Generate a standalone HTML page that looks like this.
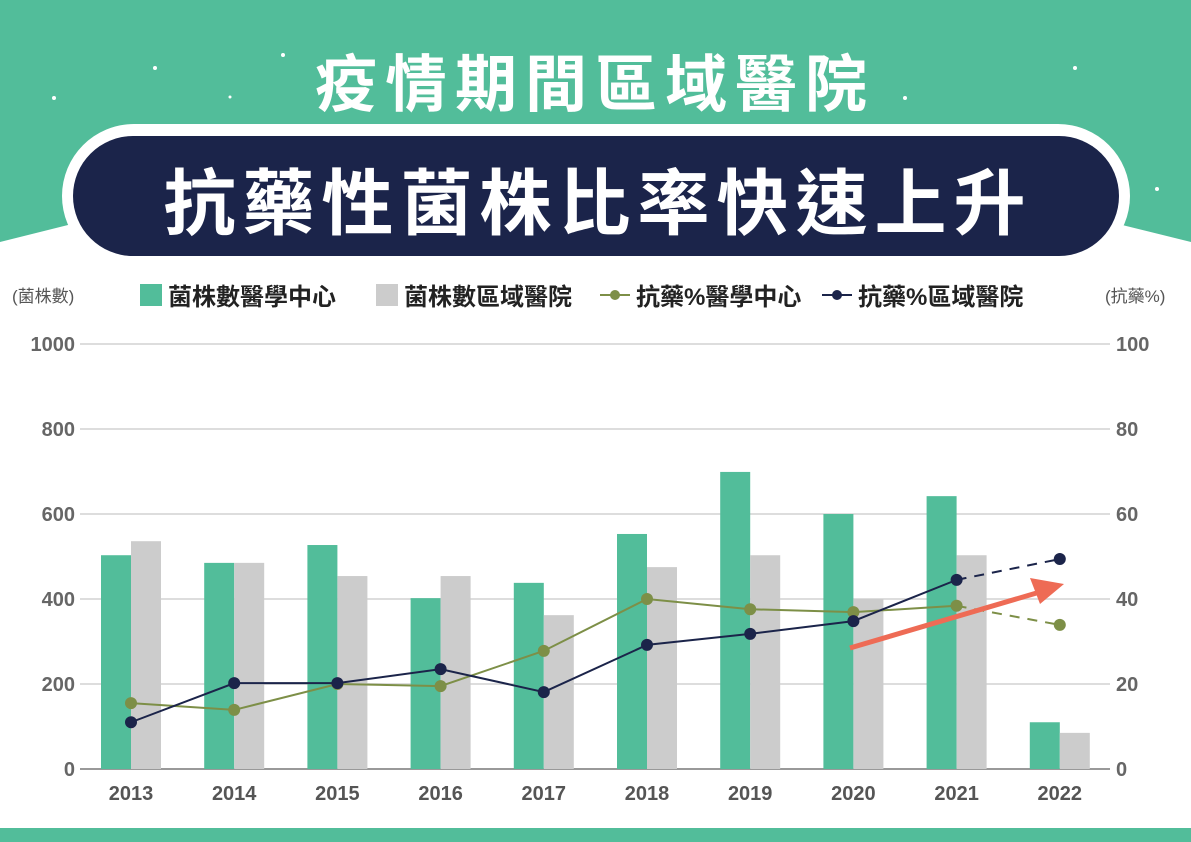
<!DOCTYPE html>
<html><head><meta charset="utf-8"><style>
body{margin:0;width:1191px;height:842px;overflow:hidden;background:#fff;font-family:"Liberation Sans","Noto Sans CJK TC",sans-serif}
</style></head><body>
<svg width="1191" height="842" style="position:absolute;left:0;top:0">
<rect x="0" y="0" width="1191" height="250" fill="#52bd9a"/>
<path d="M0,242 L80,222 L1110,222 L1191,242 L1191,842 L0,842 Z" fill="#fff"/>
<rect x="62" y="124" width="1068" height="144" rx="72" fill="#fff"/>
<rect x="73" y="136" width="1046" height="120" rx="60" fill="#1b244a"/>
<g fill="#fff"><circle cx="54" cy="98" r="2"/><circle cx="155" cy="68" r="2"/><circle cx="283" cy="55" r="2"/><circle cx="230" cy="97" r="1.5"/><circle cx="905" cy="98" r="2"/><circle cx="1075" cy="68" r="2"/><circle cx="1157" cy="189" r="2"/><circle cx="1112" cy="160" r="1.5"/></g>
<text x="595" y="106" text-anchor="middle" font-size="62" letter-spacing="8" font-weight="bold" fill="#fff">疫情期間區域醫院</text>
<text x="598" y="229" text-anchor="middle" font-size="72" letter-spacing="7" font-weight="bold" fill="#fff">抗藥性菌株比率快速上升</text>
<text x="12" y="302" font-size="17" fill="#555">(菌株數)</text>
<text x="1105" y="302" font-size="17" fill="#555">(抗藥%)</text>
<g font-size="24" font-weight="bold" fill="#222">
<rect x="140" y="284" width="22" height="22" fill="#52bd9a"/><text x="168" y="305">菌株數醫學中心</text>
<rect x="376" y="284" width="22" height="22" fill="#cccccc"/><text x="404" y="305">菌株數區域醫院</text>
<line x1="600" y1="295" x2="630" y2="295" stroke="#7d8f47" stroke-width="2"/><circle cx="615" cy="295" r="5" fill="#7d8f47"/><text x="636" y="305">抗藥%醫學中心</text>
<line x1="822" y1="295" x2="852" y2="295" stroke="#1b244a" stroke-width="2"/><circle cx="837" cy="295" r="5" fill="#1b244a"/><text x="858" y="305">抗藥%區域醫院</text>
</g>
<g id="plot"></g>
<rect x="0" y="828" width="1191" height="14" fill="#52bd9a"/>
</svg>
<script>
const years=["2013","2014","2015","2016","2017","2018","2019","2020","2021","2022"];
const centerCounts=[503,485,527,402,438,553,699,600,642,110];
const regionalCounts=[536,485,454,454,362,475,503,400,503,85];
const centerPct=[15.5,13.9,20,19.5,27.8,40,37.6,36.9,38.4,33.9];
const regionalPct=[11,20.2,20.2,23.5,18.1,29.2,31.8,34.8,44.5,49.4];
const leftTicks=[0,200,400,600,800,1000];
const rightTicks=[0,20,40,60,80,100];
const NS="http://www.w3.org/2000/svg",g=document.getElementById('plot');
const y0=769,y1=344;
const yL=v=>y0-(v/1000)*(y0-y1), yR=v=>y0-(v/100)*(y0-y1);
const xC=i=>131+i*103.2;
function mk(t,a){const e=document.createElementNS(NS,t);for(const k in a)e.setAttribute(k,a[k]);g.appendChild(e);return e;}
leftTicks.forEach((t,i)=>{
 const l=mk('line',{x1:80,x2:1110,y1:yL(t),y2:yL(t),stroke:i==0?'#999':'#ddd','stroke-width':2});
 
 const a=mk('text',{x:75,y:yL(t)+7,'text-anchor':'end','font-size':20,'font-weight':'bold',fill:'#666'});a.textContent=t;
 
 const b=mk('text',{x:1116,y:yR(rightTicks[i])+7,'font-size':20,'font-weight':'bold',fill:'#666'});b.textContent=rightTicks[i];
 
});
years.forEach((yr,i)=>{
 const r1=mk('rect',{x:xC(i)-30,y:yL(centerCounts[i]),width:30,height:y0-yL(centerCounts[i]),fill:'#52bd9a'});
 
 const r2=mk('rect',{x:xC(i),y:yL(regionalCounts[i]),width:30,height:y0-yL(regionalCounts[i]),fill:'#cccccc'});
 
 const t=mk('text',{x:xC(i),y:800,'text-anchor':'middle','font-size':20,'font-weight':'bold',fill:'#555'});t.textContent=yr;
 
});
function series(vals,col,name){
 const n=vals.length;
 const pts=vals.slice(0,n-1).map((v,i)=>xC(i)+','+yR(v)).join(' ');
 const p=mk('polyline',{points:pts,fill:'none',stroke:col,'stroke-width':2});
 
 const d=mk('line',{x1:xC(n-2),y1:yR(vals[n-2]),x2:xC(n-1),y2:yR(vals[n-1]),stroke:col,'stroke-width':2,'stroke-dasharray':'10,8'});
 
 vals.forEach((v,i)=>{const c=mk('circle',{cx:xC(i),cy:yR(v),r:6,fill:col});
 });
}
series(centerPct,'#7d8f47','pct-center');
series(regionalPct,'#1b244a','pct-regional');
const ar=mk('line',{x1:850,y1:648,x2:1040,y2:592,stroke:'#ee6b55','stroke-width':5});

const ah=mk('polygon',{points:'1064,584 1030,578 1040,604',fill:'#ee6b55'});

</script>
</body></html>
